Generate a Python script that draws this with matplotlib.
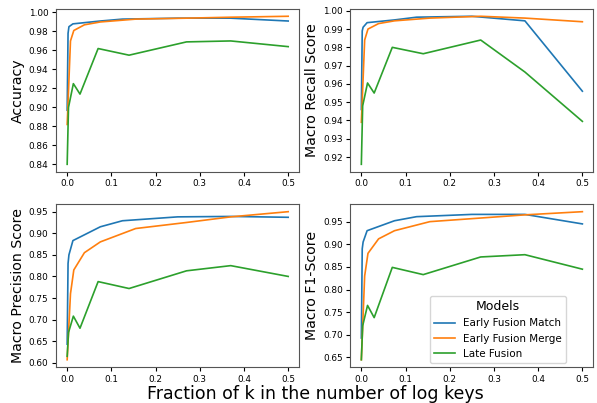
import numpy as np
import matplotlib
matplotlib.use("Agg")
import matplotlib.pyplot as plt

# x positions (fraction of k) for each model
x_match = [0, 0.002, 0.004, 0.013, 0.075, 0.125, 0.25, 0.37, 0.5]
x_merge = [0, 0.0075, 0.015, 0.039, 0.075, 0.155, 0.27, 0.37, 0.5]
x_late = [0, 0.003, 0.014, 0.029, 0.07, 0.14, 0.27, 0.37, 0.5]

# accuracy
acc_match = [0.897, 0.978, 0.985, 0.988, 0.991, 0.993, 0.994, 0.994, 0.991]
acc_merge = [0.882, 0.970, 0.981, 0.987, 0.990, 0.993, 0.994, 0.995, 0.996]
acc_late = [0.840, 0.900, 0.925, 0.914, 0.962, 0.955, 0.969, 0.970, 0.964]

# macro recall
rec_match = [0.946, 0.989, 0.991, 0.9935, 0.995, 0.9965, 0.997, 0.9945, 0.956]
rec_merge = [0.939, 0.984, 0.990, 0.993, 0.9945, 0.996, 0.997, 0.996, 0.994]
rec_late = [0.916, 0.948, 0.9605, 0.955, 0.980, 0.9765, 0.984, 0.9665, 0.9395]

# macro precision
prec_match = [0.643, 0.830, 0.850, 0.883, 0.915, 0.929, 0.938, 0.939, 0.937]
prec_merge = [0.607, 0.760, 0.815, 0.855, 0.880, 0.911, 0.925, 0.938, 0.950]
prec_late = [0.615, 0.670, 0.708, 0.680, 0.788, 0.772, 0.813, 0.825, 0.800]

# macro f1
f1_match = [0.693, 0.890, 0.905, 0.930, 0.952, 0.961, 0.966, 0.966, 0.945]
f1_merge = [0.645, 0.830, 0.880, 0.912, 0.930, 0.950, 0.958, 0.965, 0.972]
f1_late = [0.645, 0.720, 0.765, 0.738, 0.849, 0.833, 0.872, 0.877, 0.845]

labels = ['Early Fusion Match', 'Early Fusion Merge', 'Late Fusion']
panels = [
    ('Accuracy', acc_match, acc_merge, acc_late),
    ('Macro Recall Score', rec_match, rec_merge, rec_late),
    ('Macro Precision Score', prec_match, prec_merge, prec_late),
    ('Macro F1-Score', f1_match, f1_merge, f1_late),
]

fig, axes = plt.subplots(2, 2, figsize=(5.97, 4.03), dpi=100)
plt.subplots_adjust(left=0.094, right=0.994, top=0.978, bottom=0.089,
                    wspace=0.21, hspace=0.2)

for ax, (name, m1, m2, m3) in zip(axes.flat, panels):
    ax.plot(x_match, m1, label=labels[0], lw=1.2)
    ax.plot(x_merge, m2, label=labels[1], lw=1.2)
    ax.plot(x_late, m3, label=labels[2], lw=1.2)
    ax.set_ylabel(name, fontsize=10.2, labelpad=3)
    ax.tick_params(labelsize=6.4, length=3, pad=2.5)
    ax.set_xticks([0, 0.1, 0.2, 0.3, 0.4, 0.5])
    for s in ax.spines.values():
        s.set_color('#555555')

axes[0, 0].set_yticks(np.arange(0.84, 1.001, 0.02))
axes[0, 1].set_yticks(np.arange(0.92, 1.001, 0.01))
axes[1, 0].set_yticks(np.arange(0.60, 0.951, 0.05))
axes[1, 1].set_yticks(np.arange(0.65, 0.951, 0.05))

axes[1, 1].legend(title='Models', fontsize=7.5, title_fontsize=9,
                  loc='lower right', bbox_to_anchor=(0.887, 0.025),
                  borderaxespad=0)

fig.text(0.529, 0.0, 'Fraction of k in the number of log keys',
         ha='center', va='bottom', fontsize=12.5)

plt.savefig('out.png', dpi=100)
